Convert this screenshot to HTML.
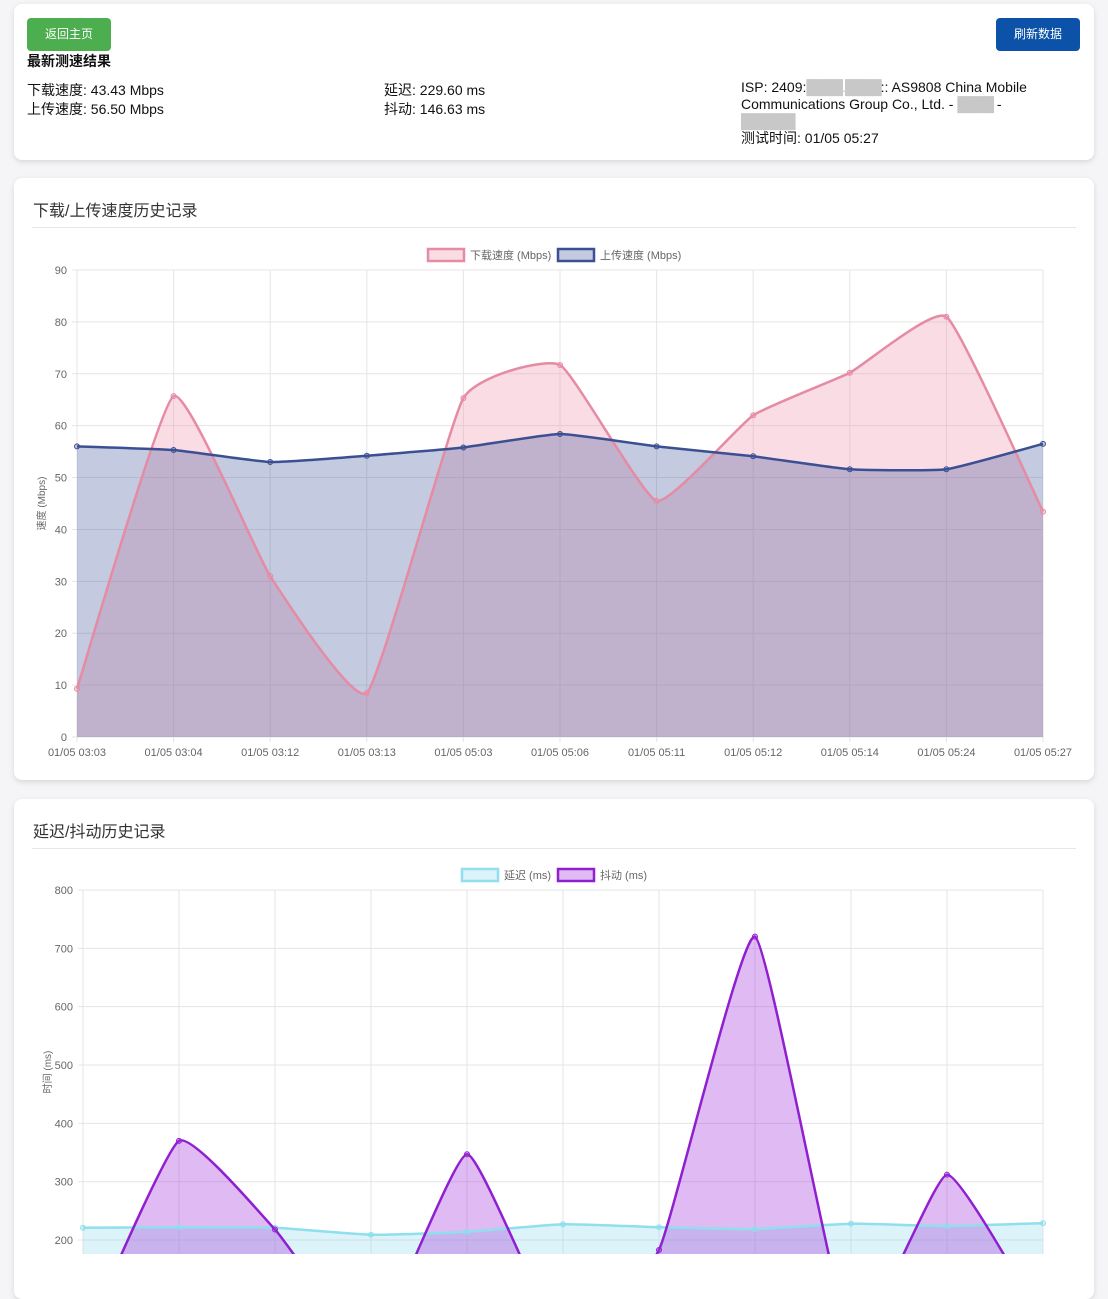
<!DOCTYPE html>
<html><head><meta charset="utf-8">
<style>
body{margin:0;background:#f5f4f7;font-family:"Liberation Sans","Noto Sans CJK SC",sans-serif;width:1108px;height:1254px;overflow:hidden;position:relative}
.card{position:absolute;left:14px;width:1080px;background:#fff;border-radius:8px;box-shadow:0 2px 6px rgba(0,0,0,0.12)}
.btn{position:absolute;top:14px;height:33px;color:#fff;font-size:12px;line-height:33px;text-align:center;border-radius:4px}
.t{position:absolute;font-size:14px;color:#111;line-height:19px}
h2{position:absolute;margin:0;left:19px;font-size:16px;font-weight:normal;color:#333}
.hr{position:absolute;left:18px;right:18px;height:1px;background:#e6e6e6}
svg{position:absolute;left:0;top:0}
svg text{font-family:"Liberation Sans","Noto Sans CJK SC",sans-serif;font-size:11px;fill:#666}
.blur{color:#c8c8c8;letter-spacing:-1px}
</style></head><body>
<div class="card" style="top:4px;height:156px">
 <div class="btn" style="left:13px;width:84px;background:#4cae4f">返回主页</div>
 <div class="btn" style="left:982px;width:84px;background:#0b52a8">刷新数据</div>
 <div class="t" style="left:13px;top:48px;font-weight:bold">最新测速结果</div>
 <div class="t" style="left:13px;top:77px">下载速度: 43.43 Mbps<br>上传速度: 56.50 Mbps</div>
 <div class="t" style="left:370px;top:77px">延迟: 229.60 ms<br>抖动: 146.63 ms</div>
 <div class="t" style="left:727px;top:75px;width:288px;line-height:17px">ISP: 2409:<span class="blur">████.████</span>:: AS9808 China Mobile Communications Group Co., Ltd. - <span class="blur">████</span> - <span class="blur">██████</span><br>测试时间: 01/05 05:27</div>
</div>
<div class="card" style="top:178px;height:602px">
 <h2 style="top:19px">下载/上传速度历史记录</h2>
 <div class="hr" style="top:49px"></div>
</div>
<div class="card" style="top:799px;height:500px">
 <h2 style="top:19px">延迟/抖动历史记录</h2>
 <div class="hr" style="top:49px"></div>
</div>
<svg id="c" width="1108" height="1254"></svg>
<script>
const labels1=["01/05 03:03","01/05 03:04","01/05 03:12","01/05 03:13","01/05 05:03","01/05 05:06","01/05 05:11","01/05 05:12","01/05 05:14","01/05 05:24","01/05 05:27"];
const download=[9.3,65.7,31,8.5,65.3,71.7,45.5,62,70.2,81,43.43];
const upload=[56,55.3,53,54.2,55.8,58.4,56,54.1,51.6,51.6,56.5];
const ticks1=[0,10,20,30,40,50,60,70,80,90];
const latency=[221,222,221,209,214,227,222,219,228,224,229];
const jitter=[27,370,218,20,347,30,183,720,30,312,60];
const ticks2=[200,300,400,500,600,700,800];
const S=document.getElementById('c');const NS='http://www.w3.org/2000/svg';
function el(t,a,txt){const e=document.createElementNS(NS,t);for(const k in a)e.setAttribute(k,a[k]);if(txt!==undefined)e.textContent=txt;S.appendChild(e);return e;}
function path(pts){let d='M'+pts[0][0]+','+pts[0][1];const tn=0.07;
 for(let i=0;i<pts.length-1;i++){const p0=pts[Math.max(0,i-1)],p1=pts[i],p2=pts[i+1],p3=pts[Math.min(pts.length-1,i+2)];
 const c1=[p1[0]+(p2[0]-p0[0])*tn,p1[1]+(p2[1]-p0[1])*tn],c2=[p2[0]-(p3[0]-p1[0])*tn,p2[1]-(p3[1]-p1[1])*tn];
 d+=' C'+c1+' '+c2+' '+p2;}return d;}
function chart(o){
 const x=i=>o.x0+(o.x1-o.x0)*i/(o.n-1), y=v=>o.yb-(v-o.min)/(o.max-o.min)*(o.yb-o.yt);
 for(const t of o.ticks){const g=el('line',{x1:o.x0-5,x2:o.x1,y1:y(t),y2:y(t),stroke:'#e5e5e5'});
  const tx=el('text',{x:o.x0-10,y:y(t)+4,'text-anchor':'end'},t);}
 for(let i=0;i<o.n;i++){const g=el('line',{x1:x(i),x2:x(i),y1:o.yt,y2:o.yb+5,stroke:'#e5e5e5'});
  if(o.labels){const tx=el('text',{x:x(i),y:o.yb+19,'text-anchor':'middle'},o.labels[i]);}}
 const base=Math.min(y(o.min),1300);
 for(const s of o.series){const pts=s.data.map((v,i)=>[x(i),y(v)]);const d=path(pts);
  const a=el('path',{d:d+' L'+x(o.n-1)+','+base+' L'+x(0)+','+base+' Z',fill:s.fill});}
 for(const s of o.series){const pts=s.data.map((v,i)=>[x(i),y(v)]);
  const l=el('path',{d:path(pts),fill:'none',stroke:s.stroke,'stroke-width':2.5});
  pts.forEach(p=>{const c=el('circle',{cx:p[0],cy:p[1],r:2.5,fill:s.fill,stroke:s.stroke});});}
 const ax=el('text',{transform:'translate('+(o.x0-32)+','+((o.yt+Math.min(o.yb,1254))/2)+') rotate(-90)','text-anchor':'middle',style:'font-size:10px'},o.ytitle);
 let lx=o.legX;for(const s of o.series){const r=el('rect',{x:lx,y:o.legY-6,width:36,height:12,fill:s.fill,stroke:s.stroke,'stroke-width':2.5});
  const t=el('text',{x:lx+42,y:o.legY+4},s.label);lx+=s.w;}
}
chart({n:11,x0:77,x1:1043,yt:270,yb:737,min:0,max:90,ticks:ticks1,labels:labels1,ytitle:'速度 (Mbps)',legX:428,legY:255,
 series:[{name:'download',label:'下载速度 (Mbps)',data:download,stroke:'#e58ba3',fill:'rgba(240,150,175,0.33)',w:130},
         {name:'upload',label:'上传速度 (Mbps)',data:upload,stroke:'#3b4f93',fill:'rgba(60,80,150,0.3)',w:130}]});
chart({n:11,x0:83,x1:1043,yt:890,yb:1356.7,min:0,max:800,ticks:ticks2,labels:null,ytitle:'时间 (ms)',legX:462,legY:875,
 series:[{name:'latency',label:'延迟 (ms)',data:latency,stroke:'#8fdfec',fill:'rgba(140,220,235,0.3)',w:96},
         {name:'jitter',label:'抖动 (ms)',data:jitter,stroke:'#8f1fcf',fill:'rgba(160,50,220,0.33)',w:96}]});
</script>
</body></html>
